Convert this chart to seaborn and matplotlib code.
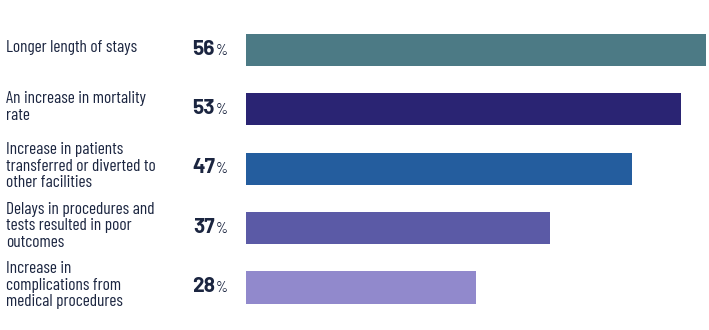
import matplotlib
matplotlib.use("Agg")
import matplotlib.pyplot as plt
import matplotlib.transforms as mtransforms
from matplotlib import font_manager
import seaborn as sns
import pandas as pd

categories = [
    "Longer length of stays",
    "An increase in mortality\nrate",
    "Increase in patients\ntransferred or diverted to\nother facilities",
    "Delays in procedures and\ntests resulted in poor\noutcomes",
    "Increase in\ncomplications from\nmedical procedures",
]
values = [56, 53, 47, 37, 28]
colors = ["#4c7a85", "#2a2473", "#245d9e", "#5b5aa6", "#9189cc"]

sns.set_theme(style="white")
installed = {f.name for f in font_manager.fontManager.ttflist}
label_font = "Barlow Condensed" if "Barlow Condensed" in installed else "Roboto"
num_font = "Barlow" if "Barlow" in installed else label_font
plt.rcParams["font.family"] = [label_font, "DejaVu Sans"]

W, H = 709, 330
fig = plt.figure(figsize=(W / 100, H / 100), dpi=100)
fig.patch.set_facecolor("white")
ax = fig.add_axes([246 / W, 0, (706 - 246) / W, 1])

df = pd.DataFrame({"label": categories, "value": values})
sns.barplot(data=df, x="value", y="label", hue="label", palette=colors,
            saturation=1, legend=False, width=0.54, linewidth=0, orient="h", ax=ax)

ax.set_xlim(0, 56)
ax.set_ylim(4 + 42.5 / 59.4, -50 / 59.4)
ax.set_axis_off()

trans = mtransforms.blended_transform_factory(fig.transFigure, ax.transData)
text_color = "#1b2540"
for i, (lab, v) in enumerate(zip(categories, values)):
    ax.text(6 / W, i - 0.04, lab, transform=trans, ha="left", va="center",
            fontsize=12.5, color=text_color, linespacing=1.12,
            family=[label_font, "DejaVu Sans"])
    ax.text(215 / W, i + 0.08, str(v), transform=trans, ha="right", va="baseline",
            fontsize=15, fontweight="bold", color=text_color, family=[num_font, "DejaVu Sans"])
    ax.text(215.5 / W, i + 0.08, "%", transform=trans, ha="left", va="baseline",
            fontsize=11, color=text_color, family=[label_font, "DejaVu Sans"])

fig.savefig("out.png", dpi=100, facecolor="white")
